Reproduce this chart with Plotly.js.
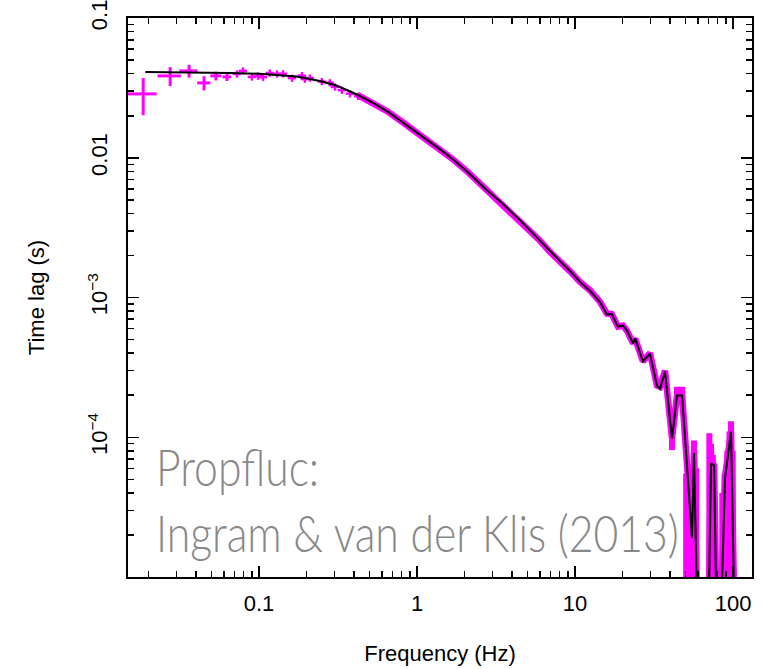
<!DOCTYPE html>
<html><head><meta charset="utf-8">
<script src="https://cdn.plot.ly/plotly-3.0.1.min.js"></script>
<style>html,body{margin:0;padding:0;background:#fff}</style>
</head><body><div id="chart" style="width:762px;height:669px"></div>
<script>
// Low-frequency binned data (magenta crosses with error bars)
const lowFreq    = [0.0185, 0.0274, 0.0361, 0.0449, 0.0534, 0.0627];
const lowFreqErr = [0.0040, 0.0046, 0.0048, 0.0043, 0.0042, 0.0040];
const lowLag     = [0.0287, 0.0386, 0.0419, 0.0344, 0.0386, 0.0380];
const lowLagErr  = [0.0085, 0.0060, 0.0044, 0.0040, 0.0028, 0.0025];

// Mid-frequency data points (small crosses)
const midFreq = [0.0726, 0.0792, 0.0903, 0.0986, 0.106, 0.117, 0.130, 0.142, 0.162, 0.187, 0.195, 0.210, 0.250, 0.281, 0.303, 0.335, 0.377, 0.424];
const midLag  = [0.0399, 0.0419, 0.0380, 0.0385, 0.0378, 0.0405, 0.0399, 0.0400, 0.0372, 0.0388, 0.0366, 0.0373, 0.0352, 0.0345, 0.0322, 0.0305, 0.0288, 0.0276];

// Dense data band (0.4 - 100 Hz)
const bandFreq = [0.42, 0.5, 0.65, 0.8, 1.0, 1.2, 1.4, 1.7, 2.1, 2.8, 3.35, 4.5, 6.0, 7.0, 8.0, 9.3, 10.8, 12.4, 14.4, 15.9, 17.1, 18.7, 20.1, 21.3, 23.3, 24.0, 26.9, 29.8, 33.0, 34.5, 37.1, 41.1, 44.2, 47.6, 55.0, 56.6, 60.0, 69.5, 72.6, 75.9, 79.2, 82.8, 89.0, 97.1, 103.0];
const bandLag  = [0.0282, 0.0255, 0.0215, 0.0182, 0.0152, 0.0131, 0.0115, 0.0097, 0.0079, 0.0058, 0.0049, 0.00357, 0.00255, 0.00210, 0.00184, 0.00154, 0.00129, 0.00113, 9.3e-4, 7.7e-4, 7.6e-4, 6.2e-4, 6.3e-4, 5.8e-4, 4.7e-4, 5.1e-4, 3.5e-4, 4.0e-4, 2.35e-4, 2.3e-4, 3.0e-4, 9.8e-5, 2.0e-4, 2.0e-4, 2.0e-5, 7.8e-5, 3e-6, 3e-6, 6.6e-5, 6.3e-5, 3e-6, 3e-6, 5.2e-5, 1.1e-4, 3e-6];

// High-frequency data with large error bars
const hiFreq    = [41.1, 44.2, 47.6, 50.5, 52.5, 55.0, 56.6, 58.5, 70.8, 72.6, 74.5, 85.5, 88.5, 92.0, 95.0, 97.1, 99.5];
const hiLag     = [9.8e-5, 2.0e-4, 2.0e-4, 3.0e-5, 2.0e-5, 3.0e-5, 6.5e-5, 3.5e-5, 7.5e-5, 6.5e-5, 5.0e-5, 2.5e-5, 4.0e-5, 6.0e-5, 8.5e-5, 1.05e-4, 6.0e-5];
const hiErrUp   = [1.2e-5, 3.0e-5, 3.0e-5, 2.5e-5, 2.5e-5, 2.5e-5, 3.0e-5, 2.5e-5, 3.2e-5, 2.5e-5, 2.5e-5, 1.5e-5, 1.5e-5, 2.0e-5, 2.5e-5, 2.5e-5, 2.0e-5];
const hiErrDown = [1.7e-5, 3.0e-5, 3.0e-5, 3.0e-5, 2.0e-5, 3.0e-5, 6.5e-5, 3.5e-5, 7.5e-5, 6.5e-5, 5.0e-5, 2.5e-5, 4.0e-5, 6.0e-5, 8.5e-5, 1.05e-4, 6.0e-5];

// Propfluc model (black line)
const modelFreq = [0.0191, 0.03, 0.05, 0.0655, 0.1, 0.173, 0.243, 0.312, 0.4, 0.5, 0.65, 0.8, 1.0, 1.2, 1.4, 1.7, 2.1, 2.8, 3.35, 4.5, 6.0, 7.0, 8.0, 9.3, 10.8, 12.4, 14.4, 15.9, 17.1, 18.7, 20.1, 21.3, 23.3, 24.0, 26.9, 29.8, 33.0, 34.5, 37.1, 41.1, 44.2, 47.6, 55.0, 56.6, 60.0, 69.5, 72.6, 75.9, 79.2, 82.8, 89.0, 97.1, 103.0];
const modelLag  = [0.0412, 0.0411, 0.0408, 0.0405, 0.0400, 0.0382, 0.0355, 0.0328, 0.0290, 0.0256, 0.0215, 0.0182, 0.0152, 0.0131, 0.0115, 0.0097, 0.0079, 0.0058, 0.0049, 0.00357, 0.00255, 0.00212, 0.00183, 0.00155, 0.00129, 0.00112, 9.3e-4, 7.6e-4, 7.6e-4, 6.2e-4, 6.3e-4, 5.8e-4, 4.7e-4, 5.1e-4, 3.5e-4, 3.96e-4, 2.34e-4, 2.23e-4, 2.95e-4, 9.8e-5, 1.99e-4, 1.99e-4, 1.9e-5, 7.7e-5, 3e-6, 3e-6, 6.5e-5, 6.3e-5, 3e-6, 3e-6, 5.1e-5, 1.1e-4, 3e-6];

// Axis ticks
const xTickVals = [0.1, 1, 10, 100];
const xTickText = ['0.1', '1', '10', '100'];
const yTickVals = [1e-4, 1e-3, 0.01, 0.1];
const yTickText = ['10<sup>\u22124</sup>', '10<sup>\u22123</sup>', '0.01', '0.1'];

function minorTicks(d0, d1) {
  const out = [];
  for (let d = d0; d <= d1; d++) for (let m = 2; m <= 9; m++) out.push(m * Math.pow(10, d));
  return out;
}

const MAG = '#ff00ff';
const traces = [
  { x: bandFreq, y: bandLag, type: 'scatter', mode: 'lines',
    line: { color: MAG, width: 6.5 }, hoverinfo: 'skip' },
  { x: hiFreq, y: hiLag, type: 'scatter', mode: 'markers', marker: { size: 1, color: MAG },
    error_y: { type: 'data', symmetric: false, array: hiErrUp, arrayminus: hiErrDown, color: MAG, thickness: 6, width: 0 } },
  { x: midFreq, y: midLag, type: 'scatter', mode: 'markers', marker: { size: 1, color: MAG },
    error_x: { type: 'percent', value: 6, color: MAG, thickness: 2.5, width: 0 },
    error_y: { type: 'percent', value: 6, color: MAG, thickness: 2.5, width: 0 } },
  { x: lowFreq, y: lowLag, type: 'scatter', mode: 'markers', marker: { size: 1, color: MAG },
    error_x: { type: 'data', array: lowFreqErr, color: MAG, thickness: 3, width: 0 },
    error_y: { type: 'data', array: lowLagErr, color: MAG, thickness: 3, width: 0 } },
  { x: modelFreq, y: modelLag, type: 'scatter', mode: 'lines',
    line: { color: '#000000', width: 2 } }
];

const tickFont = { family: 'Liberation Sans, Arial, sans-serif', size: 22, color: '#000' };
const layout = {
  width: 762, height: 669,
  margin: { l: 128, r: 10, t: 18, b: 92 },
  paper_bgcolor: '#fff', plot_bgcolor: '#fff',
  showlegend: false,
  xaxis: {
    type: 'log', range: [-1.829, 2.12],
    tickmode: 'array', tickvals: xTickVals, ticktext: xTickText,
    ticks: 'inside', ticklen: 11, tickwidth: 1.5, tickcolor: '#000',
    showline: true, linewidth: 2, linecolor: '#000', mirror: 'ticks',
    showgrid: false, zeroline: false, ticklabeloverflow: 'allow',
    minor: { tickmode: 'array', tickvals: minorTicks(-2, 2), ticks: 'inside', ticklen: 6, tickwidth: 1.5, tickcolor: '#000', showgrid: false },
    tickfont: tickFont, ticklabelstandoff: 6,
    title: { text: 'Frequency (Hz)', font: tickFont, standoff: 30 }
  },
  yaxis: {
    type: 'log', range: [-5, -0.999],
    tickmode: 'array', tickvals: yTickVals, ticktext: yTickText,
    ticks: 'inside', ticklen: 11, tickwidth: 1.5, tickcolor: '#000',
    showline: true, linewidth: 2, linecolor: '#000', mirror: 'ticks',
    showgrid: false, zeroline: false, ticklabeloverflow: 'allow',
    minor: { tickmode: 'array', tickvals: minorTicks(-5, -2), ticks: 'inside', ticklen: 6, tickwidth: 1.5, tickcolor: '#000', showgrid: false },
    tickfont: tickFont, tickangle: -90, ticklabelstandoff: 10,
    title: { text: 'Time lag (s)', font: tickFont, standoff: 33 }
  },
  annotations: [{
    xref: 'paper', yref: 'paper', x: 0.042, y: 0.255, xanchor: 'left', yanchor: 'top',
    align: 'left', showarrow: false,
    text: 'Propfluc:<br>Ingram &amp; van der Klis (2013)',
    font: { family: 'Lato, sans-serif', size: 51, weight: 300, color: '#888888' }
  }]
};

Plotly.newPlot('chart', traces, layout, { displayModeBar: false, staticPlot: true }).then(function () {
  // condense the annotation horizontally to match the narrow typeface of the original
  const t = document.querySelector('.annotation-text');
  if (t) {
    const bb = t.getBBox();
    const s = 523 / bb.width;
    t.setAttribute('transform', 'translate(' + bb.x + ' 0) scale(' + s + ' 1) translate(' + (-bb.x) + ' 0)');
  }
});
</script>
</body></html>
